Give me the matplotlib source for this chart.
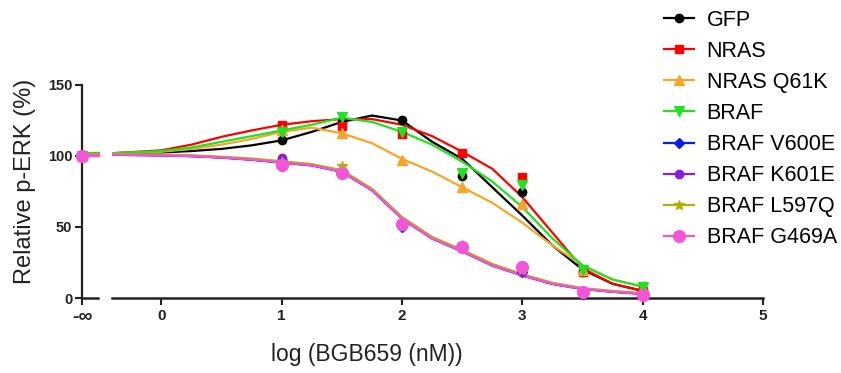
import numpy as np
import matplotlib
matplotlib.use("Agg")
import matplotlib.pyplot as plt
from matplotlib.lines import Line2D

plt.rcParams['font.family'] = ['Liberation Sans', 'DejaVu Sans']

# ---------------- data ----------------
series = ["GFP", "NRAS", "NRAS Q61K", "BRAF",
          "BRAF V600E", "BRAF K601E", "BRAF L597Q", "BRAF G469A"]
colores = ["#000000", "#FF0000", "#F7A52A", "#22E022",
           "#0A1EE6", "#8A1ED6", "#B4B000", "#F355D8"]
marcadores = ["o", "s", "^", "v", "D", "o", "*", "o"]
tam_marc = [6, 6, 6.5, 6.5, 5, 6, 7.5, 8.5]

# measured doses (log nM); -inf control plotted at its own tick
dosis = [1, 1.5, 2, 2.5, 3, 3.5, 4]
control = [100, 100, 100, 100, 100, 100, 100, 100]
puntos = [
    [111, 124, 125, 86, 75, 18, 5],     # GFP
    [122, 121, 115.5, 102, 85, 18, 5],  # NRAS
    [118, 116, 97, 78, 66, 20, 7],      # NRAS Q61K
    [117, 127.5, 117, 88, 79.5, 20, 8], # BRAF
    [97, 88, 50, 36, 18, 3, 2],         # BRAF V600E
    [98.5, 89, 51, 36, 18, 4, 2],       # BRAF K601E
    [96, 93, 52, 37, 20, 4, 2],         # BRAF L597Q
    [94, 88, 52, 36, 22, 4, 2],         # BRAF G469A
]

# fitted curves
curva_x = [-0.4, 0, 0.25, 0.5, 0.75, 1, 1.25, 1.5, 1.75, 2,
           2.25, 2.5, 2.75, 3, 3.25, 3.5, 3.75, 4]
curvas = [
    [102, 102.5, 103.5, 105, 107.5, 111, 117, 124, 128.5, 125,
     110, 98, 78, 58, 37, 20, 10, 5],
    [102, 104, 108, 113.5, 118, 122, 124.5, 126, 126, 122,
     114, 103, 91, 71, 46, 21, 10, 5],
    [102, 103, 105, 108, 112, 117, 120, 116, 109, 98,
     89, 78, 67, 53, 37, 23, 13, 8],
    [102, 103.5, 106, 110, 114, 118, 122, 127, 124, 117,
     108, 96, 82, 64, 42, 23, 13, 8],
    [101, 100.5, 100, 99, 97.5, 95.5, 93.5, 89, 76, 56,
     42, 33, 23, 16, 10, 6.5, 4.5, 3],
    [100.8, 100.3, 99.8, 98.8, 97.3, 95.3, 93.3, 88.8, 75.8, 55.8,
     41.8, 32.8, 22.8, 15.8, 9.8, 6.3, 4.3, 2.8],
    [101.5, 101, 100.5, 99.5, 98.2, 96.3, 94.3, 90, 77, 57,
     43, 34, 24, 16.8, 10.7, 7, 5, 3.4],
    [101, 100.5, 100, 99, 97.5, 95.5, 93.5, 89, 76, 56,
     42, 33, 23, 16, 10, 6.5, 4.5, 3],
]

x_ticks = [0, 1, 2, 3, 4, 5]
y_ticks = [0, 50, 100, 150]

# ---------------- figure ----------------
fig = plt.figure(figsize=(8.41, 3.73), dpi=100)
ax = fig.add_axes([82 / 841, 1 - 298 / 373, 681 / 841, 213 / 373])

X_INF = -0.66
ax.set_xlim(X_INF, 5.0)
ax.set_ylim(0, 150)

for i in range(len(series)):
    ax.plot(curva_x, curvas[i], color=colores[i], lw=1.6, zorder=3)
    # short piece of curve in the -inf segment
    ax.plot([-0.64, -0.53], [curvas[i][0], curvas[i][0]],
            color=colores[i], lw=2.2, zorder=3)
    ax.plot(dosis, puntos[i], ls="none", marker=marcadores[i],
            ms=tam_marc[i], color=colores[i], mec=colores[i],
            clip_on=False, zorder=4)
    ax.plot([X_INF], [control[i]], ls="none", marker=marcadores[i],
            ms=tam_marc[i], color=colores[i], clip_on=False, zorder=4)

# axes styling (broken x axis, GraphPad style)
for s in ["top", "right", "bottom"]:
    ax.spines[s].set_visible(False)
ax.spines["left"].set_linewidth(1.6)
ax.spines["left"].set_color("#222222")
ax.plot([X_INF, -0.53], [0, 0], color="#222222", lw=1.8, clip_on=False, zorder=2)
ax.plot([-0.41, 5.0], [0, 0], color="#222222", lw=1.8, clip_on=False, zorder=2)

ax.set_xticks([X_INF] + x_ticks)
ax.set_xticklabels(["-\u221e"] + [str(t) for t in x_ticks])
ax.set_yticks(y_ticks)
ax.tick_params(axis="both", direction="out", length=5, width=1.5,
               colors="#222222")
ax.tick_params(axis="x", labelsize=11, pad=3)
ax.tick_params(axis="y", labelsize=10.5, pad=2)
for lbl in ax.get_xticklabels() + ax.get_yticklabels():
    lbl.set_fontweight("bold")
ax.get_xticklabels()[0].set_fontsize(14)

fig.text(25 / 841, 1 - 181 / 373, "Relative p-ERK (%)", rotation=90,
         ha="center", va="center", fontsize=17, color="#222222")
fig.text(367 / 841, 1 - 354 / 373, "log (BGB659 (nM))",
         ha="center", va="center", fontsize=16.5, color="#222222")

handles = [Line2D([], [], color=colores[i], marker=marcadores[i],
                  ms=tam_marc[i], lw=1.6) for i in range(len(series))]
fig.legend(handles, series, loc="upper left",
           bbox_to_anchor=(655 / 841, 1 - 1 / 373), frameon=False,
           fontsize=15.5, handlelength=1.4, handletextpad=0.6,
           labelspacing=0.47, borderaxespad=0)

fig.savefig("out.png", dpi=100)
